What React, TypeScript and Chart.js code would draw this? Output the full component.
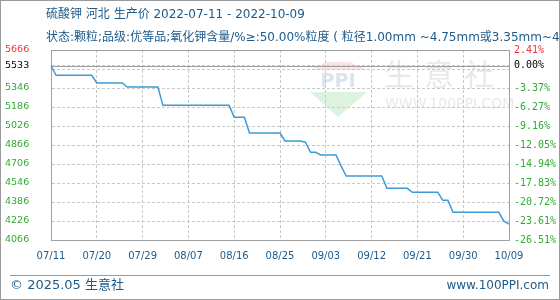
import React, { useEffect, useRef } from 'react';
import { Chart, registerables } from 'chart.js';

Chart.register(...registerables);

// ---------- data ----------
const START_DATE = '2022-07-11';
const DAY_COUNT = 91;

const prices: number[] = [
  5533,
  5453, 5453, 5453, 5453, 5453, 5453, 5453, 5453,
  5388, 5388, 5388, 5388, 5388, 5388,
  5354, 5354, 5354, 5354, 5354, 5354, 5354,
  5200, 5200, 5200, 5200, 5200, 5200, 5200, 5200, 5200, 5200, 5200, 5200, 5200, 5200,
  5099, 5099, 5099,
  4967, 4967, 4967, 4967, 4967, 4967, 4967,
  4900, 4900, 4900, 4900,
  4890,
  4805, 4805,
  4782, 4782, 4782, 4782,
  4690,
  4605, 4605, 4605, 4605, 4605, 4605, 4605, 4605,
  4501, 4501, 4501, 4501, 4501,
  4468, 4468, 4468, 4468, 4468, 4468,
  4400, 4400,
  4299, 4299, 4299, 4299, 4299, 4299, 4299, 4299, 4299, 4299,
  4225,
  4200,
];

const BASE_PRICE = 5533;
const Y_MIN = 4066;
const Y_MAX = 5666;
const yTickValues = [4066, 4226, 4386, 4546, 4706, 4866, 5026, 5186, 5346, 5506, 5533, 5666];
const leftTickLabels = ['4066', '4226', '4386', '4546', '4706', '4866', '5026', '5186', '5346', '', '5533', '5666'];
const rightTickLabels = ['-26.51%', '-23.61%', '-20.72%', '-17.83%', '-14.94%', '-12.05%', '-9.16%', '-6.27%', '-3.37%', '', '0.00%', '2.41%'];
const X_TICK_EVERY = 9;

const TITLE_1 = '硫酸钾 河北 生产价 2022-07-11 - 2022-10-09';
const TITLE_2 = '状态:颗粒;品级:优等品;氧化钾含量/%≥:50.00%粒度 ( 粒径1.00mm ~4.75mm或3.35mm~4.75mm ) ≥:90%';
const FOOTER_LEFT = '© 2025.05 生意社';
const FOOTER_RIGHT = 'www.100PPI.com';

// category labels (MM/DD for each day)
const dateLabels: string[] = (() => {
  const out: string[] = [];
  const d0 = new Date(START_DATE + 'T00:00:00Z');
  for (let i = 0; i < DAY_COUNT; i++) {
    const d = new Date(d0.getTime() + i * 86400000);
    const mm = String(d.getUTCMonth() + 1).padStart(2, '0');
    const dd = String(d.getUTCDate()).padStart(2, '0');
    out.push(mm + '/' + dd);
  }
  return out;
})();

// ---------- styles ----------
const BLUE_TEXT = '#1d5a8a';
const LINE_BLUE = '#3d9ad6';
const RED = '#ee3333';
const GREEN = '#33aa33';
const GRID = '#c8c8c8';
const FRAME = '#a0a0a0';
const CJK = "'DejaVu Sans', 'Noto Sans CJK SC', sans-serif";

const decorPlugin = {
  id: 'decor',
  beforeDraw(chart: any) {
    const { ctx } = chart;
    ctx.save();
    ctx.fillStyle = '#ffffff';
    ctx.fillRect(0, 0, chart.width, chart.height);
    // watermark logo
    ctx.fillStyle = '#fbe4e4';
    ctx.beginPath();
    ctx.moveTo(326, 62);
    ctx.lineTo(350, 62);
    ctx.lineTo(367, 70);
    ctx.lineTo(310, 70);
    ctx.closePath();
    ctx.fill();
    ctx.fillStyle = '#dde3ef';
    ctx.font = "bold 19px 'DejaVu Sans'";
    ctx.textBaseline = 'middle';
    ctx.textAlign = 'center';
    ctx.fillText('PPI', 338, 82);
    ctx.fillStyle = '#def2e0';
    ctx.beginPath();
    ctx.moveTo(310, 92);
    ctx.lineTo(367, 92);
    ctx.lineTo(338, 117);
    ctx.closePath();
    ctx.fill();
    ctx.fillStyle = '#e8e8e8';
    ctx.font = "30px 'Noto Sans CJK SC'";
    ctx.textAlign = 'left';
    ctx.fillText('生', 384, 74);
    ctx.fillText('意', 424, 74);
    ctx.fillText('社', 464, 74);
    ctx.font = "14px 'DejaVu Sans'";
    ctx.fillText('WWW.100PPI.COM', 385, 104);
    ctx.restore();
  },
  beforeDatasetsDraw(chart: any) {
    const { ctx, chartArea } = chart;
    const y = chart.scales.y;
    ctx.save();
    ctx.strokeStyle = FRAME;
    ctx.lineWidth = 1;
    // top frame
    ctx.beginPath();
    ctx.moveTo(chartArea.left, Math.round(chartArea.top) + 0.5);
    ctx.lineTo(chartArea.right, Math.round(chartArea.top) + 0.5);
    ctx.stroke();
    // baseline
    const by = Math.round(y.getPixelForValue(BASE_PRICE)) + 0.5;
    ctx.beginPath();
    ctx.moveTo(chartArea.left, by);
    ctx.lineTo(chartArea.right, by);
    ctx.stroke();
    ctx.restore();
  },
  afterDraw(chart: any) {
    const { ctx } = chart;
    ctx.save();
    // titles
    ctx.fillStyle = BLUE_TEXT;
    ctx.textBaseline = 'middle';
    ctx.textAlign = 'left';
    ctx.font = '12px ' + CJK;
    ctx.fillText(TITLE_1, 46, 15);
    ctx.fillText(TITLE_2, 46, 38);
    // footer
    ctx.strokeStyle = '#9a9a9a';
    ctx.lineWidth = 1;
    ctx.beginPath();
    ctx.moveTo(10, 275.5);
    ctx.lineTo(550, 275.5);
    ctx.stroke();
    ctx.font = '13px ' + CJK;
    ctx.fillText(FOOTER_LEFT, 10, 286);
    ctx.textAlign = 'right';
    ctx.font = '12px ' + CJK;
    ctx.fillText(FOOTER_RIGHT, 549, 286);
    // outer border
    ctx.strokeStyle = '#9a9a9a';
    ctx.strokeRect(0.5, 0.5, chart.width - 1, chart.height - 1);
    ctx.restore();
  },
};

const tickColor = (ctx: any) => {
  const v = ctx.tick && ctx.tick.value;
  if (v === Y_MAX) return RED;
  if (v === BASE_PRICE) return '#000000';
  return GREEN;
};

export default function App() {
  const ref = useRef<HTMLCanvasElement | null>(null);

  useEffect(() => {
    if (!ref.current) return;
    const chart = new Chart(ref.current, {
      type: 'line',
      data: {
        labels: dateLabels,
        datasets: [
          {
            data: prices,
            borderColor: LINE_BLUE,
            borderWidth: 1.5,
            pointRadius: 0,
            tension: 0,
            fill: false,
            yAxisID: 'y',
          },
        ],
      },
      options: {
        animation: false,
        responsive: false,
        events: [],
        layout: { padding: { left: 5, right: 0, top: 50, bottom: 0 } },
        plugins: { legend: { display: false }, tooltip: { enabled: false }, title: { display: false } },
        scales: {
          x: {
            type: 'category',
            offset: false,
            afterFit: (s: any) => { s.height = 60; },
            ticks: {
              autoSkip: false,
              maxRotation: 0,
              minRotation: 0,
              padding: 10,
              color: BLUE_TEXT,
              font: { family: 'DejaVu Sans', size: 10 },
              callback: (_v: any, i: number) => (i % X_TICK_EVERY === 0 ? dateLabels[i] : null),
            },
            grid: { color: GRID, drawTicks: false, lineWidth: 1 },
            border: { display: true, color: FRAME, dash: [3, 2] },
          },
          y: {
            position: 'left',
            min: Y_MIN,
            max: Y_MAX,
            afterBuildTicks: (s: any) => { s.ticks = yTickValues.map((v) => ({ value: v })); },
            afterFit: (s: any) => { s.width = 46; },
            ticks: {
              crossAlign: 'far',
              padding: 0,
              color: tickColor,
              font: { family: 'DejaVu Sans', size: 9.5 },
              callback: (v: any) => leftTickLabels[yTickValues.indexOf(v)],
            },
            grid: { color: GRID, drawTicks: false, lineWidth: 1 },
            border: { display: true, color: FRAME, dash: [3, 2] },
          },
          y2: {
            position: 'right',
            min: Y_MIN,
            max: Y_MAX,
            afterBuildTicks: (s: any) => { s.ticks = yTickValues.map((v) => ({ value: v })); },
            afterFit: (s: any) => { s.width = 51; },
            ticks: {
              crossAlign: 'near',
              padding: 5,
              color: tickColor,
              font: { family: 'DejaVu Sans Mono', size: 10 },
              callback: (v: any) => rightTickLabels[yTickValues.indexOf(v)],
            },
            grid: { display: false, drawTicks: false },
            border: { display: true, color: FRAME },
          },
        },
      },
      plugins: [decorPlugin],
    } as any);
    return () => chart.destroy();
  }, []);

  return (
    <div style={{ position: 'absolute', left: 0, top: 0, width: 560, height: 300 }}>
      <canvas ref={ref} width={560} height={300} style={{ width: 560, height: 300, display: 'block' }} />
    </div>
  );
}
